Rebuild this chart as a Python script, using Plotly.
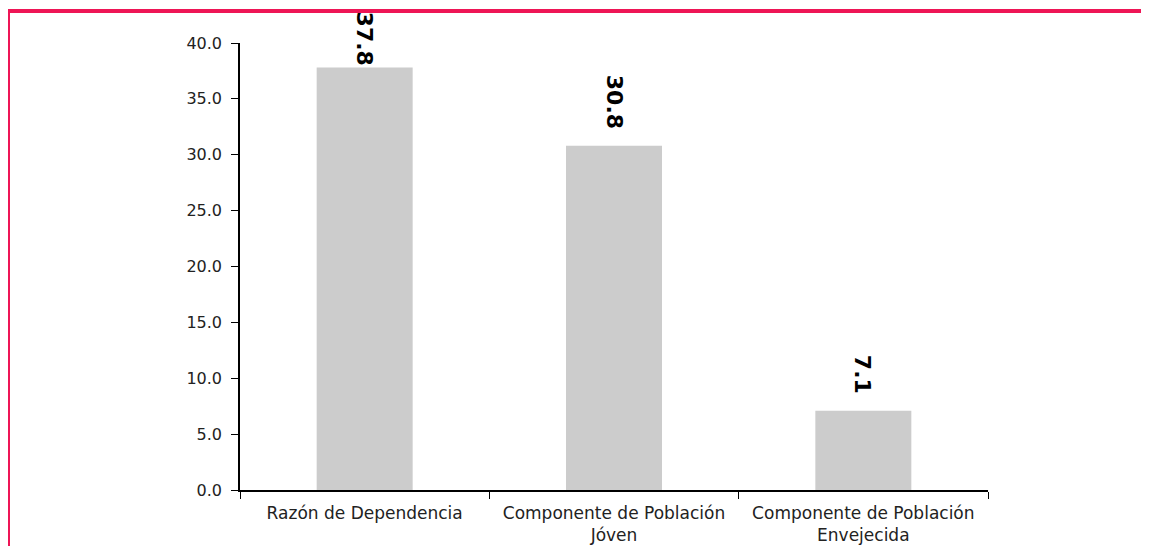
import plotly.graph_objects as go

categories = ["Razón de Dependencia", "Componente de Población<br>Jóven", "Componente de Población<br>Envejecida"]
values = [37.8, 30.8, 7.1]
y_ticks = [0, 5, 10, 15, 20, 25, 30, 35, 40]

# page has an 8px body margin; the figure is sized to fit inside it
OFF = 8
W, H = 1149 - 2 * OFF, 554 - 2 * OFF
ML, MT = 240 - OFF, 43 - OFF
PW = 748
PH = 447
MR = W - ML - PW
MB = H - MT - PH
YMAX = 40

fig = go.Figure()
fig.add_trace(go.Bar(
    x=categories, y=values,
    marker=dict(color="#CCCCCC", line=dict(width=0)),
    hoverinfo="skip",
))

# value labels, rotated, kept inside the page
label_font_size = 22
for c, v in zip(categories, values):
    txt = f"{v:.1f}"
    L = sum(0.38 if ch == "." else 0.696 for ch in txt) * label_font_size
    bar_top = (YMAX - v) / YMAX * PH
    shift = min(15, bar_top + 30 - L)
    fig.add_annotation(
        x=c, y=v, xref="x", yref="y", text=f"<b>{txt}</b>",
        textangle=90, showarrow=False, yanchor="bottom", xanchor="center",
        yshift=shift,
        font=dict(family="DejaVu Sans", size=label_font_size, color="#000000"),
    )

# red frame (top and left visible)
def px_to_paper_x(px):
    return (px - OFF - ML) / PW

def px_to_paper_y(py):
    return (MT + PH - (py - OFF)) / PH

fig.add_shape(
    type="rect", xref="paper", yref="paper",
    x0=px_to_paper_x(8), x1=px_to_paper_x(1200),
    y0=px_to_paper_y(600), y1=px_to_paper_y(11),
    line=dict(color="#EE1556", width=4), fillcolor="rgba(0,0,0,0)", layer="above",
)

fig.update_layout(
    width=W, height=H,
    margin=dict(l=ML, r=MR, t=MT, b=MB, pad=0, autoexpand=False),
    paper_bgcolor="white", plot_bgcolor="white",
    bargap=0.615,
    showlegend=False,
    font=dict(family="DejaVu Sans", size=16, color="#222222"),
    xaxis=dict(
        type="category", showline=True, linecolor="#000000", linewidth=1.5,
        ticks="outside", ticklen=7, tickwidth=1.2, tickcolor="#000000",
        tickson="boundaries", showgrid=False, zeroline=False,
        ticklabelstandoff=7, automargin=False,
        tickfont=dict(size=17, color="#222222"),
    ),
    yaxis=dict(
        range=[0, YMAX], tickvals=y_ticks, tickformat=".1f",
        showline=True, linecolor="#000000", linewidth=1.5,
        ticks="outside", ticklen=7, tickwidth=1.2, tickcolor="#000000",
        showgrid=False, zeroline=False,
        ticklabelstandoff=6, automargin=False,
        tickfont=dict(size=16, color="#222222"),
    ),
)

fig.write_html("out.html")
